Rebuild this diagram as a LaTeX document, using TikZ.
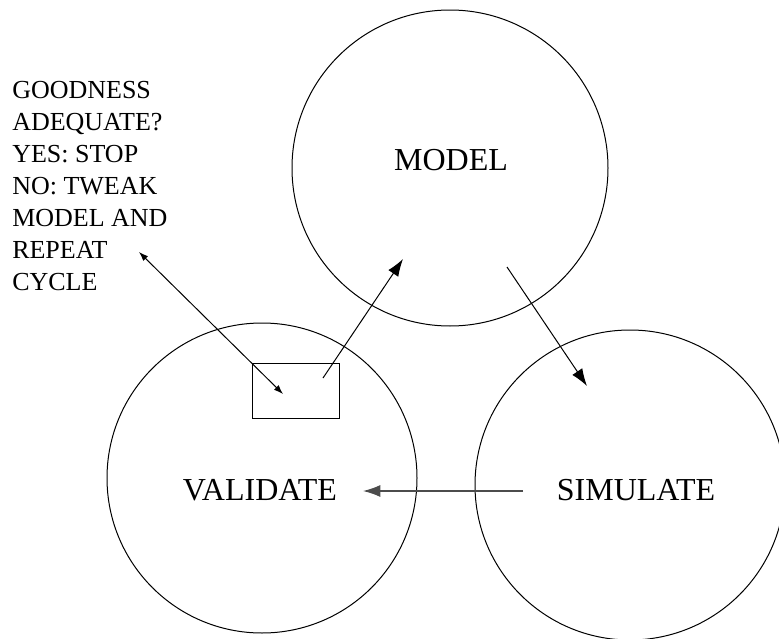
\documentclass[tikz,border=0pt]{standalone}
\usepackage{fontspec}
\setmainfont{Liberation Serif}
\usetikzlibrary{arrows.meta}
\begin{document}
\begin{tikzpicture}[x=0.75pt, y=-0.75pt,
phase/.style={draw, circle, line width=0.75pt, inner sep=0pt},
tag/.style={anchor=base, inner sep=0pt, font=\fontsize{24}{28}\selectfont},
note/.style={anchor=base west, inner sep=0pt, font=\fontsize{19.5}{24}\selectfont},
chk/.style={draw, line width=0.75pt, minimum width=65.25pt, minimum height=41.25pt, inner sep=0pt},
arrow/.style={-{Latex[length=13pt,width=9pt]}, line width=0.75pt},
link/.style={{Latex[length=7pt,width=5pt]}-{Latex[length=7pt,width=5pt]}, line width=0.75pt}
]
\useasboundingbox (0,0) rectangle (779,639);
% the three phases
\node[phase, minimum size=237pt] (model) at (450,168) {};
\node[phase, minimum size=232.5pt] (validate) at (262,478) {};
\node[phase, minimum size=232.5pt] (simulate) at (630,485) {};
\node[tag] (modeltxt) at (451,170) {MODEL};
\node[tag] (validatetxt) at (260,500) {VALIDATE};
\node[tag] (simulatetxt) at (636,500) {SIMULATE};
% check box
\node[chk] (check) at (295.5,390.5) {};
\foreach \t [count=\i] in {GOODNESS, ADEQUATE?, YES: STOP, NO: TWEAK, MODEL AND, REPEAT, CYCLE}
  \node[note] (note\i) at (12,{98+32*(\i-1)}) {\t};
% arrow ends
\coordinate (checkout) at (323,378);
\coordinate (modelin) at (403,259);
\coordinate (modelout) at (507,267);
\coordinate (simin) at (587,386);
\coordinate (simout) at (523,491);
\coordinate (valin) at (363,491);
\coordinate (noteend) at (139,252);
\coordinate (checkin) at (283,394);
\draw[arrow] (checkout) -- (modelin);
\draw[arrow] (modelout) -- (simin);
\draw[arrow, draw=black!70, line width=1pt] (simout) -- (valin);
\draw[link] (noteend) -- (checkin);
\end{tikzpicture}
\end{document}
